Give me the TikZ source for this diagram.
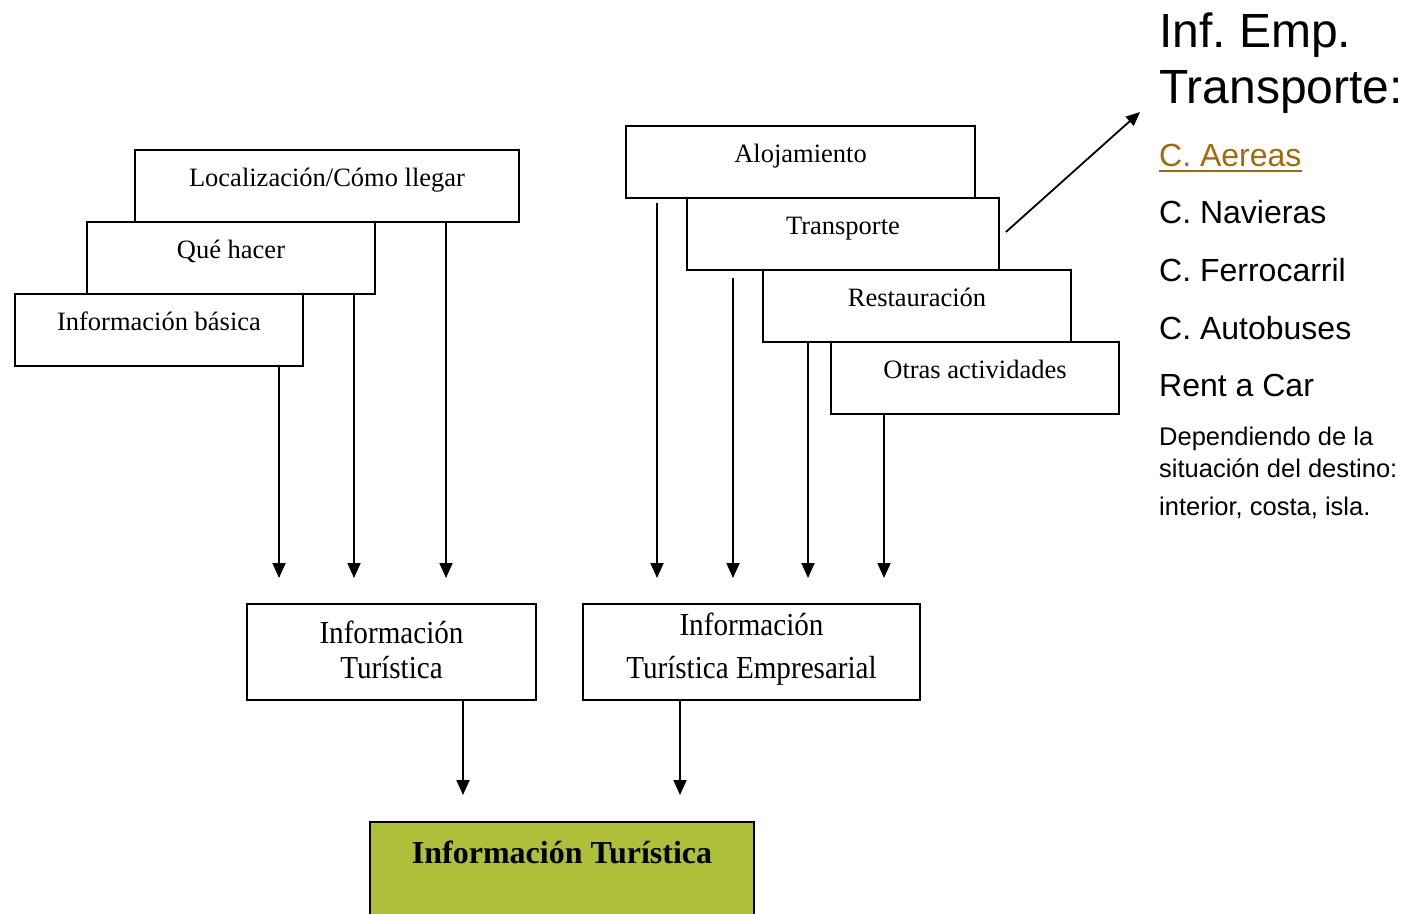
\documentclass[tikz,border=0pt]{standalone}
\usepackage{fontspec}
\setmainfont{Liberation Serif}
\newfontfamily\sansfont{Liberation Sans}
\usetikzlibrary{arrows.meta,calc}
\definecolor{boxgreen}{RGB}{175,191,58}
\definecolor{linkbrown}{RGB}{163,106,10}
\frenchspacing

\begin{document}
\begin{tikzpicture}[x=1pt,y=-1pt,
  box/.style={draw, line width=1.8pt, fill=white, rectangle, inner sep=0pt,
    minimum height=72pt, font=\fontsize{26.5}{30}\selectfont,
    text height=16pt, text depth=16pt},
  bigbox/.style={draw, line width=1.8pt, fill=white, rectangle, inner sep=0pt,
    minimum height=96pt, align=center, font=\fontsize{32}{35}\selectfont},
  conn/.style={line width=1.8pt, -{Triangle[width=13pt,length=15pt]}},
  side/.style={anchor=base west, inner sep=0pt, font=\sansfont\fontsize{32}{36}\selectfont},
  sidebig/.style={side, font=\sansfont\fontsize{48}{52}\selectfont},
  sidesmall/.style={side, font=\sansfont\fontsize{25.5}{30}\selectfont}]
\useasboundingbox (0,0) rectangle (1420,913);

% left stack of information sources
\node[box, minimum width=384pt] (loc) at (327,186) {Localización/Cómo llegar};
\node[box, minimum width=288pt] (que) at (231,258) {Qué hacer};
\node[box, minimum width=288pt] (basica) at (159,330) {Información básica};

% right stack of company information
\node[box, minimum width=349pt] (aloj) at (800.5,162) {Alojamiento};
\node[box, minimum width=312pt] (trans) at (843,234) {Transporte};
\node[box, minimum width=308pt] (rest) at (917,306) {Restauración};
\node[box, minimum width=288pt] (otras) at (975,378) {Otras actividades};

% intermediate boxes
\node[bigbox, minimum width=289pt] (it) at (391.5,652)
  {\scalebox{0.91}[1]{Información}\\[0pt]\scalebox{0.91}[1]{Turística}\rule[-5pt]{0pt}{5pt}};
\node[bigbox, minimum width=337pt] (ite) at (751.5,652)
  {\scalebox{0.91}[1]{Información}\\[8pt]\scalebox{0.91}[1]{Turística Empresarial}\rule[-13pt]{0pt}{13pt}};

% final box, running off the lower edge
\begin{scope}
  \clip (0,0) rectangle (1420,913);
  \node[draw, line width=1.8pt, fill=boxgreen, inner sep=0pt,
    minimum width=384pt, minimum height=120pt,
    font=\bfseries\fontsize{32}{36}\selectfont,
    text height=24pt, text depth=62pt] (final) at (562,882) {Información Turística};
\end{scope}

% arrow end points
\coordinate (l1) at (279,578);
\coordinate (l2) at (354,578);
\coordinate (l3) at (446,578);
\coordinate (r1) at (657,578);
\coordinate (r2) at (733,578);
\coordinate (r3) at (808,578);
\coordinate (r4) at (884,578);
\coordinate (b1) at (463,795);
\coordinate (b2) at (680,795);
\coordinate (tip) at (1140,112);

\draw[conn] (basica.south -| l1) -- (l1);
\draw[conn] ($(que.south -| l2)+(0,-2)$) -- (l2);
\draw[conn] (loc.south -| l3) -- (l3);

\draw[conn] ($(aloj.south -| r1)+(0,4)$) -- (r1);
\draw[conn] ($(trans.south -| r2)+(0,7)$) -- (r2);
\draw[conn] (rest.south -| r3) -- (r3);
\draw[conn] (otras.south -| r4) -- (r4);

\draw[conn] (it.south -| b1) -- (b1);
\draw[conn] (ite.south -| b2) -- (b2);

\draw[line width=1.8pt, -{Triangle[width=12pt,length=14pt]}] ($(trans.east)+(6,-2)$) -- (tip);

% transport companies list
\node[sidebig] (h1) at (1159,47) {Inf. Emp.};
\node[sidebig] (h2) at (1159,103) {Transporte:};
\node[side, text=linkbrown] (aereas) at (1159,166) {C. Aereas};
\draw[linkbrown, line width=2pt] ($(aereas.base west)+(0,5)$) -- ($(aereas.base east)+(0,5)$);
\node[side] (navieras) at (1159,223) {C. Navieras};
\node[side] (ferro) at (1159,281) {C. Ferrocarril};
\node[side] (autobus) at (1159,339) {C. Autobuses};
\node[side] (rent) at (1159,396) {Rent a Car};
\node[sidesmall] (dep1) at (1159,445) {Dependiendo de la};
\node[sidesmall] (dep2) at (1159,477) {situación del destino:};
\node[sidesmall] (dep3) at (1159,515) {interior, costa, isla.};
\end{tikzpicture}
\end{document}
